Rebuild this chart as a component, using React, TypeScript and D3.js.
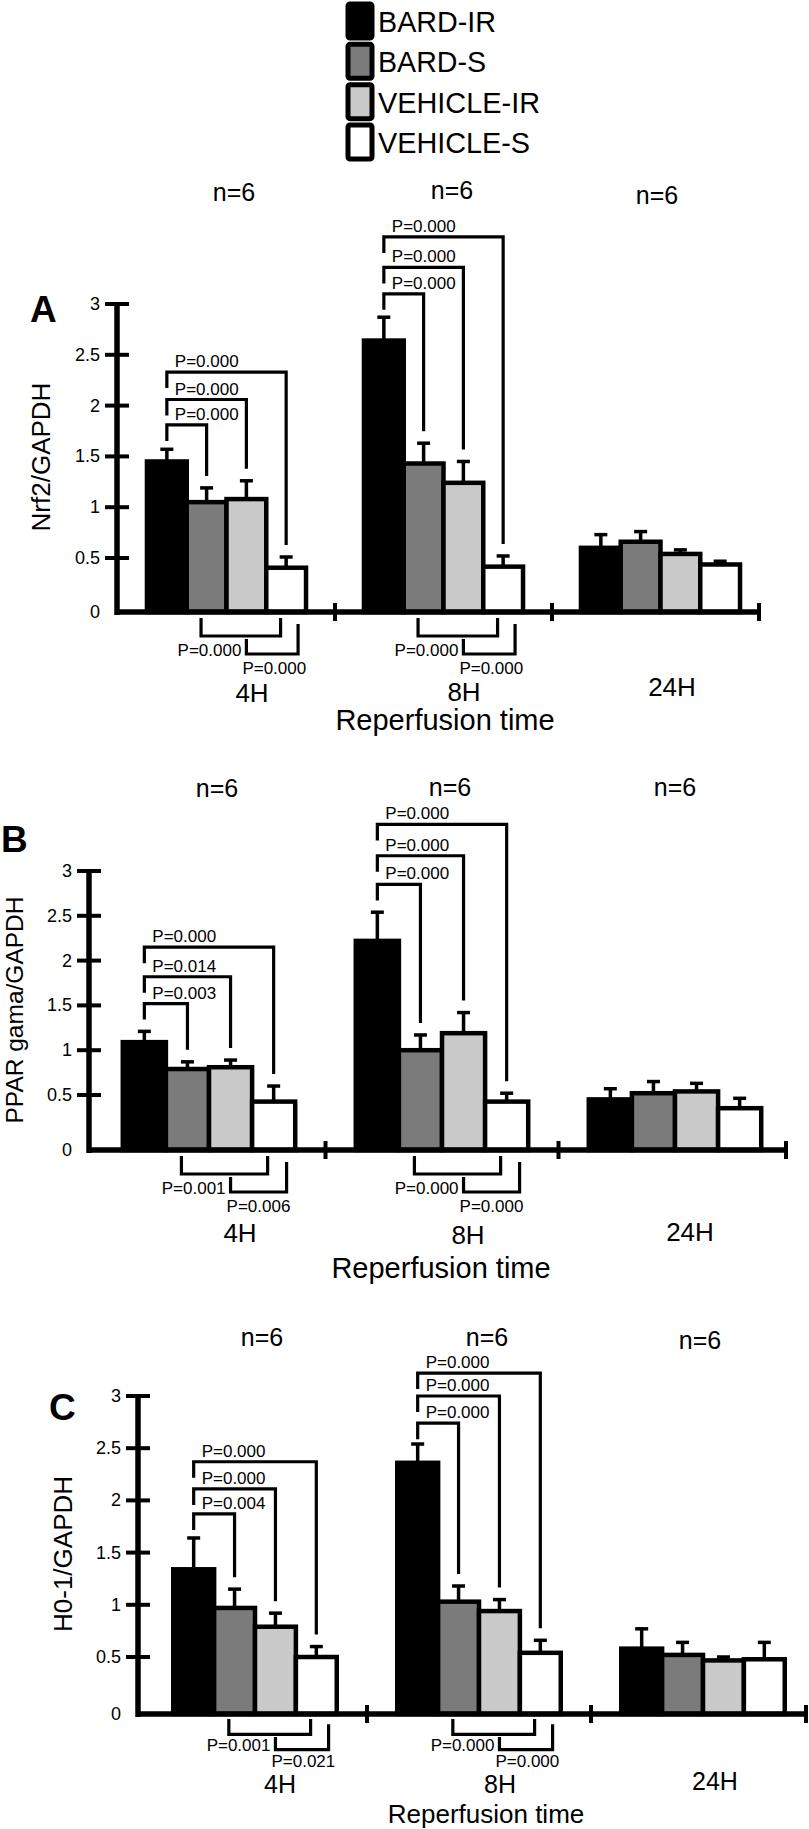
import React from 'react';
import * as d3 from 'd3';

const groups = ['4H', '8H', '24H'];
const seriesNames = ['BARD-IR', 'BARD-S', 'VEHICLE-IR', 'VEHICLE-S'];
const seriesFills = ['#000000', '#7b7b7b', '#c9c9c9', '#ffffff'];
const yTicks = [0, 0.5, 1, 1.5, 2, 2.5, 3];
const yTickLabels = ['0', '0.5', '1', '1.5', '2', '2.5', '3'];
const groupN = ['n=6', 'n=6', 'n=6'];
const xAxisTitle = 'Reperfusion time';

// Panel A: Nrf2/GAPDH
const nrf2Mean = [
  [1.45, 1.05, 1.08, 0.41],
  [2.64, 1.43, 1.24, 0.42],
  [0.6, 0.66, 0.54, 0.44],
];
const nrf2Err = [
  [0.12, 0.14, 0.18, 0.1],
  [0.23, 0.2, 0.21, 0.1],
  [0.13, 0.1, 0.04, 0.03],
];
const nrf2TopP = [
  ['P=0.000', 'P=0.000', 'P=0.000'],
  ['P=0.000', 'P=0.000', 'P=0.000'],
];
const nrf2TopLevel = [
  [1.81, 2.06, 2.33],
  [3.1, 3.36, 3.66],
];
const nrf2BottomP = [
  ['P=0.000', 'P=0.000'],
  ['P=0.000', 'P=0.000'],
];

// Panel B: PPAR gama/GAPDH
const pparMean = [
  [1.09, 0.79, 0.81, 0.44],
  [2.22, 1.0, 1.19, 0.44],
  [0.46, 0.52, 0.54, 0.38],
];
const pparErr = [
  [0.12, 0.08, 0.08, 0.16],
  [0.32, 0.17, 0.23, 0.08],
  [0.11, 0.13, 0.09, 0.09],
];
const pparTopP = [
  ['P=0.003', 'P=0.014', 'P=0.000'],
  ['P=0.000', 'P=0.000', 'P=0.000'],
];
const pparTopLevel = [
  [1.52, 1.82, 2.15],
  [2.85, 3.17, 3.52],
];
const pparBottomP = [
  ['P=0.001', 'P=0.006'],
  ['P=0.000', 'P=0.000'],
];

// Panel C: H0-1/GAPDH
const ho1Mean = [
  [1.34, 0.97, 0.79, 0.5],
  [2.36, 1.03, 0.94, 0.54],
  [0.58, 0.52, 0.47, 0.48],
];
const ho1Err = [
  [0.3, 0.18, 0.13, 0.1],
  [0.18, 0.15, 0.11, 0.12],
  [0.19, 0.12, 0.03, 0.16],
];
const ho1TopP = [
  ['P=0.004', 'P=0.000', 'P=0.000'],
  ['P=0.000', 'P=0.000', 'P=0.000'],
];
const ho1TopLevel = [
  [1.87, 2.11, 2.37],
  [2.74, 3.0, 3.22],
];
const ho1BottomP = [
  ['P=0.001', 'P=0.021'],
  ['P=0.000', 'P=0.000'],
];

const FONT = "'Liberation Sans', Arial, Helvetica, sans-serif";

type Layout = {
  axisX: number; yTop: number; y05: number; baseline: number; xEnd: number;
  r0: number; r1: number; pad: number; bScale: number;
  letter: [number, number]; title: [number, number]; titleSize: number;
  nX: number[]; nY: number[]; grpX: number[]; grpY: number[]; grpSize: number;
  xTitle: [number, number]; xTitleSize: number;
};

const layoutA: Layout = {
  axisX: 117, yTop: 304, y05: 558, baseline: 612, xEnd: 759, r0: 118, r1: 769, pad: 0.267, bScale: 1,
  letter: [30, 322], title: [50, 457], titleSize: 26,
  nX: [234, 452, 657], nY: [201, 199, 204], grpX: [252, 464, 672], grpY: [702, 701, 696], grpSize: 26,
  xTitle: [445, 730], xTitleSize: 29,
};
const layoutB: Layout = {
  axisX: 89, yTop: 871, y05: 1095, baseline: 1150, xEnd: 786, r0: 92.5, r1: 791.5, pad: 0.26, bScale: 1,
  letter: [1, 852], title: [23, 1010], titleSize: 24.5,
  nX: [217, 450, 675], nY: [797, 796, 796], grpX: [240, 468, 690], grpY: [1242, 1244, 1241], grpSize: 26,
  xTitle: [441, 1278], xTitleSize: 29,
};
const layoutC: Layout = {
  axisX: 138, yTop: 1396, y05: 1657, baseline: 1714, xEnd: 806, r0: 143, r1: 815, pad: 0.27, bScale: 0.85,
  letter: [49, 1420], title: [72, 1554], titleSize: 26,
  nX: [262, 487, 700], nY: [1346, 1346, 1349], grpX: [280, 500, 715], grpY: [1793, 1793, 1790], grpSize: 25,
  xTitle: [486, 1823], xTitleSize: 26,
};

type PanelProps = {
  means: number[][]; errs: number[][]; topP: string[][]; topLevel: number[][]; bottomP: string[][];
  letter: string; yTitle: string; L: Layout;
};

function Panel({ means, errs, topP, topLevel, bottomP, letter, yTitle, L }: PanelProps) {
  const xg = d3.scaleBand<string>().domain(groups).range([L.r0, L.r1]).paddingInner(L.pad).paddingOuter(L.pad / 2);
  const xs = d3.scaleBand<string>().domain(seriesNames).range([0, xg.bandwidth()]);
  const y = d3.scaleLinear().domain([0, 0.5, 3]).range([L.baseline, L.y05, L.yTop]);
  const step = xg.step();
  const bw = xg.bandwidth();
  const base = L.baseline;
  const k = L.bScale;
  const cx = (gi: number, si: number) => (xg(groups[gi]) as number) + (xs(seriesNames[si]) as number) + xs.bandwidth() / 2;

  return (
    <g>
      <text x={L.letter[0]} y={L.letter[1]} fontSize={37} fontWeight="bold" fontFamily={FONT}>{letter}</text>
      <text transform={`translate(${L.title[0]},${L.title[1]}) rotate(-90)`} textAnchor="middle" fontSize={L.titleSize} fontFamily={FONT}>{yTitle}</text>
      {groupN.map((n, i) => (
        <text key={'n' + i} x={L.nX[i]} y={L.nY[i]} textAnchor="middle" fontSize={25} fontFamily={FONT}>{n}</text>
      ))}
      {groups.map((g, gi) =>
        seriesNames.map((s, si) => {
          const x0 = (xg(g) as number) + (xs(s) as number);
          const yt = y(means[gi][si]);
          return (
            <rect key={g + s} x={x0} y={yt} width={xs.bandwidth()} height={base - yt}
              fill={seriesFills[si]} stroke="#000" strokeWidth={4.5} />
          );
        })
      )}
      {groups.map((g, gi) =>
        seriesNames.map((s, si) => {
          const c = cx(gi, si);
          const y1 = y(means[gi][si]);
          const y2 = y(means[gi][si] + errs[gi][si]);
          return (
            <g key={'e' + g + s} stroke="#000" strokeWidth={3.5}>
              <line x1={c} x2={c} y1={y1} y2={y2} />
              <line x1={c - 6.5} x2={c + 6.5} y1={y2} y2={y2} />
            </g>
          );
        })
      )}
      <line x1={L.axisX} x2={L.axisX} y1={L.yTop} y2={base + 3} stroke="#000" strokeWidth={5.5} />
      {yTicks.map((t, i) => (
        <g key={'t' + i}>
          {t > 0 && <line x1={L.axisX - 12} x2={L.axisX + 12} y1={y(t)} y2={y(t)} stroke="#000" strokeWidth={4} />}
          <text x={L.axisX - 17} y={y(t) + 6} textAnchor="end" fontSize={18} fontFamily={FONT}>{yTickLabels[i]}</text>
        </g>
      ))}
      <line x1={L.axisX} x2={L.xEnd} y1={base} y2={base} stroke="#000" strokeWidth={5.5} />
      {[L.r0 + step, L.r0 + 2 * step, L.xEnd].map((tx, i) => (
        <line key={'xt' + i} x1={tx} x2={tx} y1={base - 9} y2={base + 9} stroke="#000" strokeWidth={4} />
      ))}
      {groups.map((g, gi) => (
        <text key={'gl' + g} x={L.grpX[gi]} y={L.grpY[gi]} textAnchor="middle" fontSize={L.grpSize} fontFamily={FONT}>{g}</text>
      ))}
      <text x={L.xTitle[0]} y={L.xTitle[1]} textAnchor="middle" fontSize={L.xTitleSize} fontFamily={FONT}>{xAxisTitle}</text>
      {topP.map((row, gi) =>
        row.map((p, j) => {
          const lx = cx(gi, 0);
          const rx = cx(gi, j + 1);
          const ly = y(topLevel[gi][j]);
          const rEnd = y(means[gi][j + 1] + errs[gi][j + 1]) - 12;
          return (
            <g key={'tb' + gi + j}>
              <path d={`M${lx},${ly + 16}V${ly}H${rx}V${rEnd}`} fill="none" stroke="#000" strokeWidth={3.2} />
              <text x={lx + 8} y={ly - 5} fontSize={17} fontFamily={FONT}>{p}</text>
            </g>
          );
        })
      )}
      {bottomP.map((row, gi) => {
        const g0 = xg(groups[gi]) as number;
        const x1 = g0 + 0.34 * bw;
        const x2 = g0 + 0.84 * bw;
        const x3 = g0 + 0.625 * bw;
        const x4 = g0 + 0.95 * bw;
        return (
          <g key={'bb' + gi}>
            <path d={`M${x1},${base + 6 * k}V${base + 24 * k}H${x2}V${base + 6 * k}`} fill="none" stroke="#000" strokeWidth={3.2} />
            <path d={`M${x3},${base + 27 * k}V${base + 42 * k}H${x4}V${base + 12 * k}`} fill="none" stroke="#000" strokeWidth={3.2} />
            <text x={x3 - 5} y={base + 44 * k} textAnchor="end" fontSize={17} fontFamily={FONT}>{row[0]}</text>
            <text x={x3 - 4} y={base + 62 * k} fontSize={17} fontFamily={FONT}>{row[1]}</text>
          </g>
        );
      })}
    </g>
  );
}

const legendY = d3.scalePoint<string>().domain(seriesNames).range([21, 142]);
const legendTextWidths = [118, 108, 162, 152];

function Legend() {
  return (
    <g>
      {seriesNames.map((s, i) => {
        const cy = legendY(s) as number;
        return (
          <g key={s}>
            <rect x={348} y={cy - 17} width={24} height={34} rx={2} fill={seriesFills[i]} stroke="#000" strokeWidth={5} />
            <text x={378} y={cy + 11} fontSize={30} fontFamily={FONT} textLength={legendTextWidths[i]} lengthAdjust="spacingAndGlyphs">{s}</text>
          </g>
        );
      })}
    </g>
  );
}

export default function App() {
  return (
    <svg width={809} height={1829} viewBox="0 0 809 1829"
      style={{ position: 'absolute', left: 0, top: 0, display: 'block', background: '#fff' }}>
      <rect x={0} y={0} width={809} height={1829} fill="#fff" />
      <Legend />
      <Panel means={nrf2Mean} errs={nrf2Err} topP={nrf2TopP} topLevel={nrf2TopLevel} bottomP={nrf2BottomP}
        letter="A" yTitle="Nrf2/GAPDH" L={layoutA} />
      <Panel means={pparMean} errs={pparErr} topP={pparTopP} topLevel={pparTopLevel} bottomP={pparBottomP}
        letter="B" yTitle="PPAR gama/GAPDH" L={layoutB} />
      <Panel means={ho1Mean} errs={ho1Err} topP={ho1TopP} topLevel={ho1TopLevel} bottomP={ho1BottomP}
        letter="C" yTitle="H0-1/GAPDH" L={layoutC} />
    </svg>
  );
}
